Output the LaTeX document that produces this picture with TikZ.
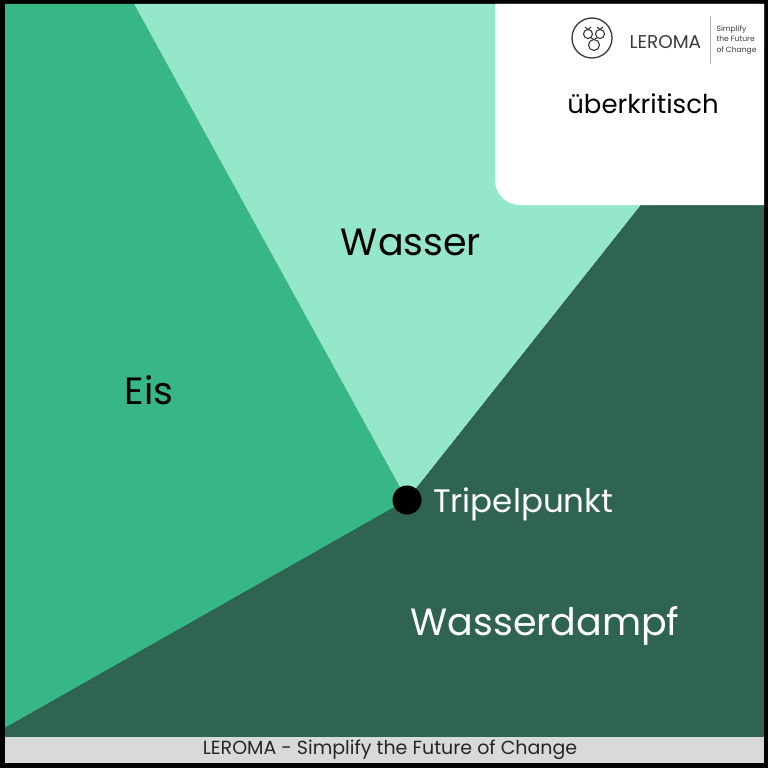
\documentclass[tikz,border=0pt]{standalone}
\usepackage{fontspec}
\setmainfont{Poppins}
\usetikzlibrary{positioning}
\definecolor{eis}{HTML}{37B686}
\definecolor{wasser}{HTML}{95E7CA}
\definecolor{dampf}{HTML}{306452}
\definecolor{fuss}{HTML}{D9D9D9}
\definecolor{logo}{HTML}{3A3A3A}
\begin{document}
\begin{tikzpicture}[x=1pt, y=-1pt,
   phase/.style={font=\fontsize{38}{38}\selectfont},
   bag/.style={draw=logo, line width=1.1pt}]

\useasboundingbox (0,0) rectangle (768,768);
\fill[black] (0,0) rectangle (768,768);

% phase fields
\coordinate (tp) at (407,500);
\fill[eis] (5,4) -- (134,4) -- (tp) -- (5,728) -- cycle;
\fill[wasser] (134,4) -- (764,4) -- (764,50) -- (tp) -- cycle;
\fill[dampf] (tp) -- (764,50) -- (764,737) -- (5,737) -- (5,728) -- cycle;
\fill[fuss] (5,737) rectangle (764,763);

% white box
\fill[white] (764,4) -- (495,4) -- (495,180) .. controls (495,194) and (506,205) .. (520,205) -- (764,205) -- cycle;

% logo
\draw[logo, line width=1.3pt] (592,38) circle [radius=20];
\draw[bag] (588,34) circle [radius=4.5];
\draw[bag] (600,34) circle [radius=4.5];
\draw[bag] (594,45) circle [radius=5.5];
\draw[bag] (585,27) -- (588,29.5) -- (591,27) (597,27) -- (600,29.5) -- (603,27) (591,38) -- (594,39.5) -- (597,38);
\node[text=logo, font=\fontsize{18.5}{18.5}\selectfont, anchor=west] (leroma) at (626,42) {LEROMA};
\draw[gray!60, line width=.8pt] (710,16) -- (710,64);
\node[text=logo, font=\fontsize{7.6}{10.5}\selectfont, align=left, anchor=west] (motto) at (713,40) {Simplify\\the Future\\of Change};

% labels
\node[font=\fontsize{26}{26}\selectfont] (ueber) at (643,104) {überkritisch};
\node[phase] (wasserlab) at (411,242) {Wasser};
\node[phase] (eislab) at (149,390) {Eis};
\node[phase, text=white] (dampflab) at (545,626) {Wasserdampf};

\node[circle, fill=black, minimum size=29pt, inner sep=0pt] (punkt) at (tp) {};
\node[right=8pt of punkt, yshift=-4pt, text=white, font=\fontsize{32.5}{32.5}\selectfont] (tplab) {Tripelpunkt};

\node[text=black!85, font=\fontsize{19}{19}\selectfont] (footer) at (390,750) {LEROMA - Simplify the Future of Change};

\end{tikzpicture}
\end{document}
